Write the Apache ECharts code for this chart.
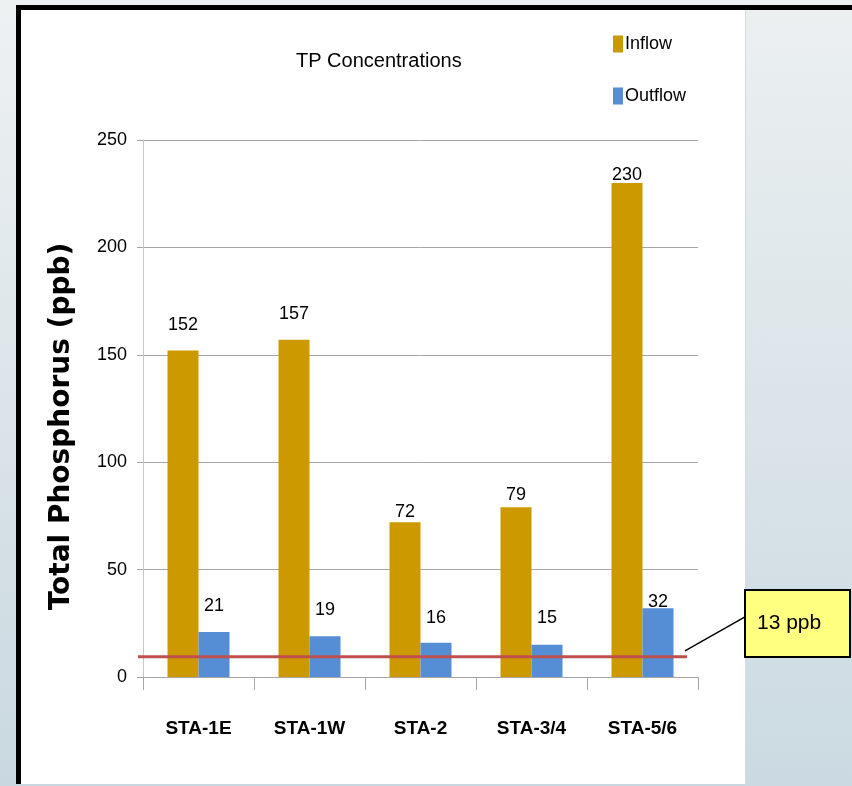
<!DOCTYPE html>
<html>
<head>
<meta charset="utf-8">
<script src="https://cdn.jsdelivr.net/npm/echarts@6/dist/echarts.min.js"></script>
<style>
  html, body { margin: 0; padding: 0; }
  body {
    width: 852px; height: 786px; position: relative; overflow: hidden;
    background: linear-gradient(to bottom, #eef1f2, #c9d8e0);
  }
  #panel {
    position: absolute; left: 16px; top: 5px; width: 724px; height: 774px;
    background: #fff; border-left: 5px solid #000; border-top: 5px solid #000;
  }
  #topbar {
    position: absolute; left: 740px; top: 5px; width: 112px; height: 5px; background: #000;
  }
  #sidepanel {
    position: absolute; left: 745px; top: 10px; width: 107px; height: 776px;
    background: linear-gradient(to bottom, #ebeff0, #cbdae2);
    border-left: 1px solid #d4d9dc;
  }
  #chart { position: absolute; left: 0; top: 0; width: 852px; height: 786px; }
</style>
</head>
<body>
<div id="panel"></div>
<div id="topbar"></div>
<div id="sidepanel"></div>
<div id="chart"></div>
<script>
const categories = ["STA-1E", "STA-1W", "STA-2", "STA-3/4", "STA-5/6"];
const inflow = [152, 157, 72, 79, 230];
const outflow = [21, 19, 16, 15, 32];
const yTicks = [0, 50, 100, 150, 200, 250];
const thresholdValue = 9.4;      // where the red line sits on the axis
const thresholdLabel = "13 ppb";

// label gaps above the bars (Excel placed them unevenly)
const inflowLabelGap = [16, 17, 1, 3, -1];
const outflowLabelGap = [17, 17, 16, 18, -3];

const sans = "'Liberation Sans', Arial, sans-serif";

const chart = echarts.init(document.getElementById("chart"));

const withGap = (vals, gaps) =>
  vals.map((v, i) => ({ value: v, label: { distance: gaps[i] } }));

const option = {
  backgroundColor: "transparent",
  animation: false,
  title: {
    text: "TP Concentrations",
    left: 291,
    top: 46,
    textStyle: { fontFamily: sans, fontSize: 20, fontWeight: "normal", color: "#000" }
  },
  legend: {
    orient: "vertical",
    left: 608,
    top: 30,
    itemWidth: 10,
    itemHeight: 17,
    itemGap: 34,
    icon: "rect",
    textStyle: { fontFamily: sans, fontSize: 18, color: "#000", padding: [0, 0, 0, -3] },
    data: ["Inflow", "Outflow"]
  },
  grid: { left: 143, right: 154, top: 140, bottom: 109 },
  xAxis: {
    type: "category",
    data: categories,
    axisLine: { lineStyle: { color: "#a6a6a6", width: 1 } },
    axisTick: { show: true, interval: 0, length: 13, lineStyle: { color: "#a6a6a6" } },
    axisLabel: {
      interval: 0,
      margin: 42,
      fontFamily: sans, fontSize: 19, fontWeight: "bold", color: "#000"
    }
  },
  yAxis: {
    type: "value",
    min: yTicks[0],
    max: yTicks[yTicks.length - 1],
    interval: yTicks[1] - yTicks[0],
    name: "Total Phosphorus (ppb)",
    nameLocation: "middle",
    nameGap: 67,
    nameRotate: 90,
    nameTextStyle: {
      fontFamily: "'DejaVu Sans', Verdana, sans-serif",
      fontSize: 28, fontWeight: "bold", color: "#000",
      padding: [0, 36, 0, 0]
    },
    axisLine: { show: true, lineStyle: { color: "#c8c8c8" } },
    axisTick: { show: true, length: 6, lineStyle: { color: "#a6a6a6" } },
    splitLine: { lineStyle: { color: "#a6a6a6" } },
    axisLabel: { margin: 16, fontFamily: sans, fontSize: 18, color: "#000" }
  },
  series: [
    {
      name: "Inflow",
      type: "bar",
      barWidth: 31,
      barGap: "0%",
      itemStyle: { color: "#cc9900" },
      label: { show: true, position: "top", fontFamily: sans, fontSize: 18, color: "#000" },
      data: withGap(inflow, inflowLabelGap)
    },
    {
      name: "Outflow",
      type: "bar",
      barWidth: 31,
      itemStyle: { color: "#558ed5" },
      label: { show: true, position: "top", fontFamily: sans, fontSize: 18, color: "#000" },
      data: withGap(outflow, outflowLabelGap)
    }
  ]
};

chart.setOption(option);

// threshold line + callout, placed from the value axis
const yLine = chart.convertToPixel({ yAxisIndex: 0 }, thresholdValue);
chart.setOption({
  graphic: [
    {
      type: "line", z: 10,
      shape: { x1: 138, y1: yLine, x2: 687, y2: yLine },
      style: { stroke: "#c0504d", lineWidth: 3 }
    },
    {
      type: "line", z: 10,
      shape: { x1: 685, y1: yLine - 6, x2: 745, y2: yLine - 40 },
      style: { stroke: "#000", lineWidth: 1.5 }
    },
    {
      type: "rect", z: 10,
      shape: { x: 745, y: 590, width: 105, height: 67 },
      style: { fill: "#ffff80", stroke: "#000", lineWidth: 2 }
    },
    {
      type: "text", z: 11,
      left: 757, top: 613,
      style: { text: thresholdLabel, font: "21px " + sans, fill: "#000" }
    }
  ]
});
</script>
</body>
</html>
